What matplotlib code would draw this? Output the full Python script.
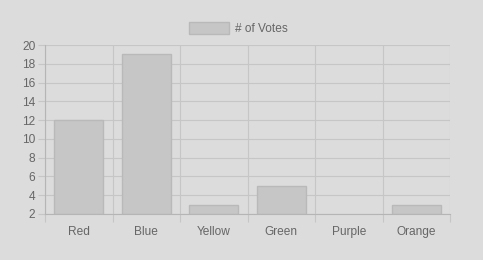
import matplotlib
matplotlib.use("Agg")
import matplotlib.pyplot as plt
from matplotlib.patches import Rectangle

categories = ["Red", "Blue", "Yellow", "Green", "Purple", "Orange"]
votes = [12, 19, 3, 5, 2, 3]
y_ticks = [2, 4, 6, 8, 10, 12, 14, 16, 18, 20]
series_label = "# of Votes"

plt.rcParams['font.family'] = ['Liberation Sans', 'DejaVu Sans']
bg = "#dcdcdc"
grid_c = "#c6c6c6"
txt_c = "#666666"
bar_fill = "#c6c6c6"
bar_edge = "#b9b9b9"
fs = 8.6

W, H = 483, 260
fig = plt.figure(figsize=(W / 100, H / 100), dpi=100, facecolor=bg)
ax = fig.add_axes([45 / W, 1 - 214 / H, 405 / W, 169 / H], facecolor=bg)

x = list(range(len(categories)))
heights = [v - y_ticks[0] for v in votes]
lws = [1.0 if h > 0 else 0 for h in heights]
ax.bar(x, heights, bottom=y_ticks[0], width=0.72,
       color=bar_fill, edgecolor=bar_edge, linewidth=lws, zorder=3)

ax.set_xlim(-0.5, len(categories) - 0.5)
ax.set_ylim(y_ticks[0], y_ticks[-1])
ax.set_yticks(y_ticks)
ax.set_xticks(x)
ax.set_xticklabels(categories)
ax.set_xticks([i - 0.5 for i in range(len(categories) + 1)], minor=True)

ax.tick_params(axis='x', which='major', length=0, pad=8.6, labelsize=fs, labelcolor=txt_c)
ax.tick_params(axis='x', which='minor', length=6, width=0.8, color=grid_c)
ax.tick_params(axis='y', which='major', length=5, width=0.8, color=grid_c, pad=2,
               labelsize=fs, labelcolor=txt_c)

ax.grid(True, axis='y', which='major', color=grid_c, linewidth=0.8, zorder=0)
ax.grid(True, axis='x', which='minor', color=grid_c, linewidth=0.8, zorder=0)
ax.set_axisbelow(True)

for s in ['top', 'right']:
    ax.spines[s].set_visible(False)
for s in ['left', 'bottom']:
    ax.spines[s].set_color("#b5b5b5")
    ax.spines[s].set_linewidth(0.8)
    ax.spines[s].set_zorder(4)

# legend
fig.patches.append(Rectangle((189 / W, 1 - 34 / H), 40 / W, 12 / H,
                             transform=fig.transFigure, facecolor=bar_fill,
                             edgecolor=bar_edge, linewidth=1.0))
fig.text(235 / W, 1 - 28.5 / H, series_label, fontsize=fs, color=txt_c,
         ha='left', va='center')

fig.savefig("out.png", dpi=100, facecolor=bg)
